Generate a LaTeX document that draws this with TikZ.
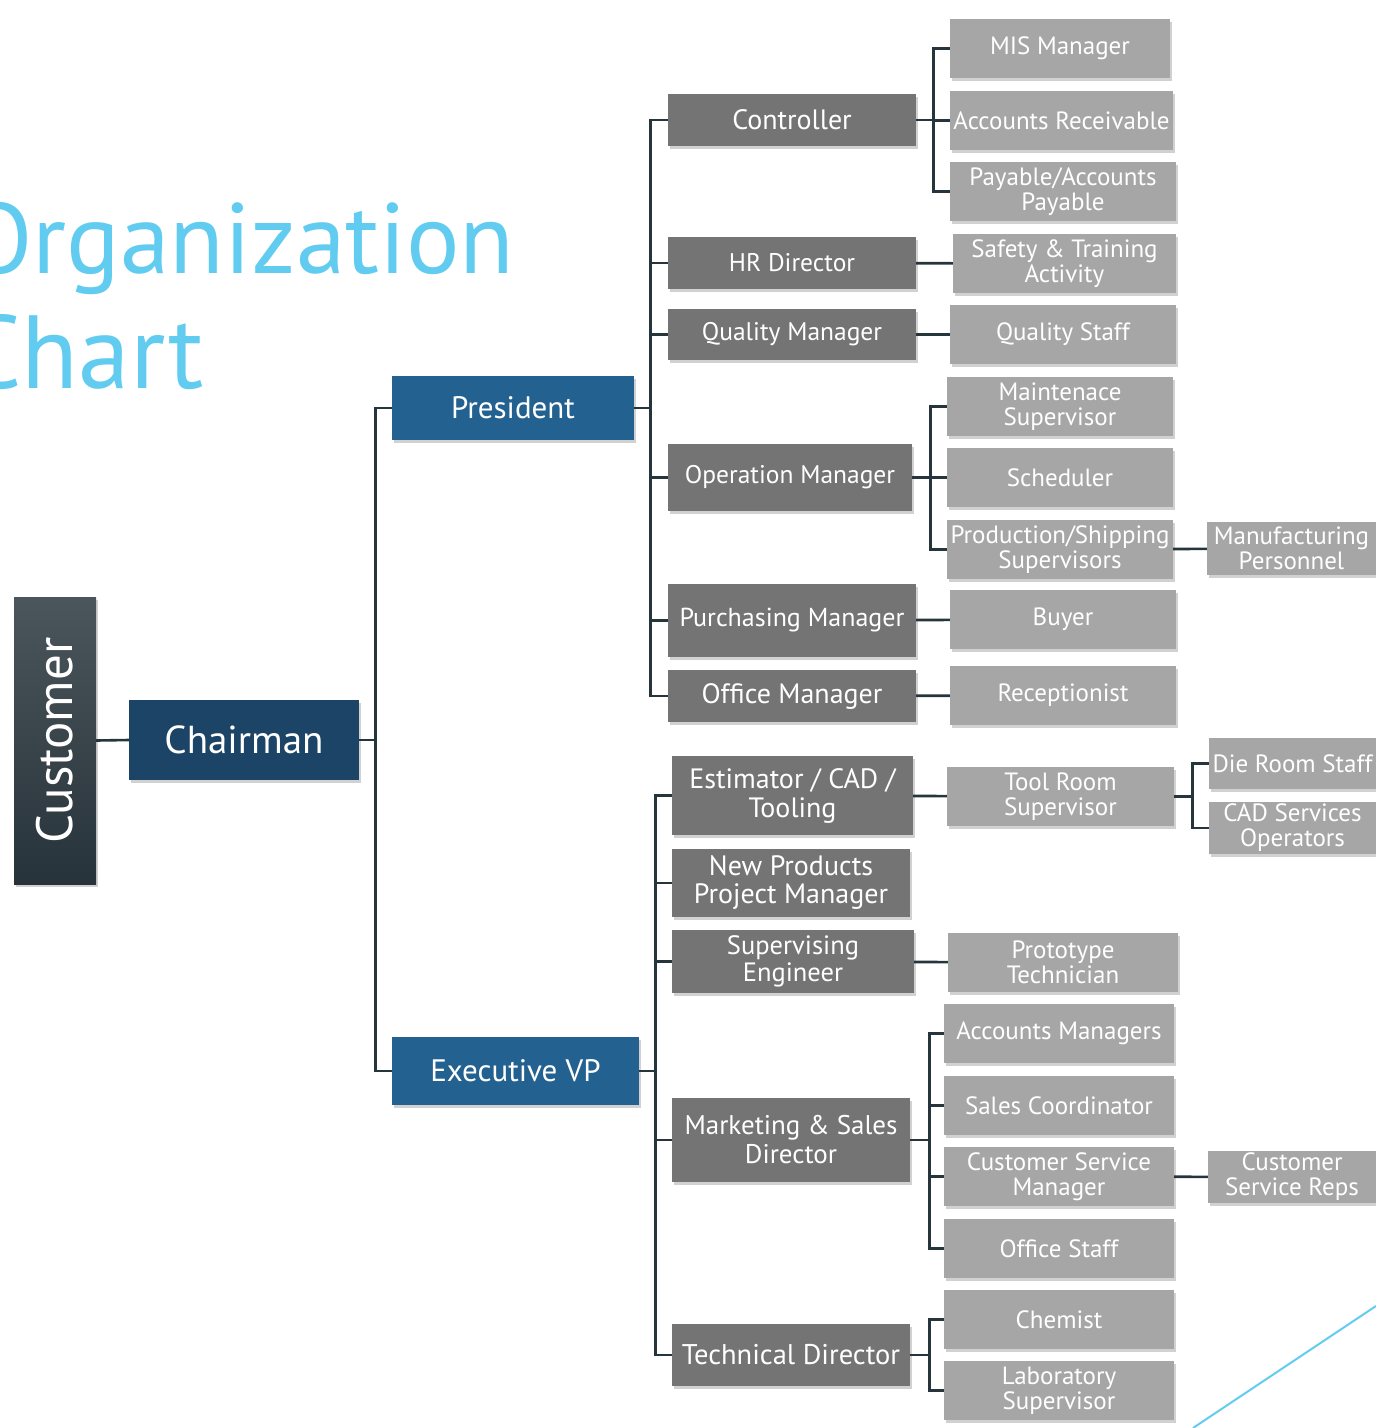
\documentclass[tikz,border=0pt]{standalone}
\usepackage{fontspec}
\setmainfont{PT Sans}
\usepackage{graphicx}
\usepackage{tikz}
\usetikzlibrary{positioning,shadows}

\definecolor{titleblue}{HTML}{62CCF0}
\definecolor{navy}{HTML}{1B4466}
\definecolor{vpblue}{HTML}{236190}
\definecolor{mgrgray}{HTML}{747474}
\definecolor{staffgray}{HTML}{A6A6A6}
\definecolor{linegray}{HTML}{26343C}
\definecolor{custtop}{HTML}{4B555C}
\definecolor{custbot}{HTML}{27333A}

\newcommand{\fs}[1]{\fontsize{#1}{1.1\dimexpr #1pt\relax}\selectfont}

\begin{document}
\begin{tikzpicture}[x=1pt,y=-1pt,
	box/.style={rectangle,text=white,align=center,inner sep=0pt,
		drop shadow={shadow xshift=2pt,shadow yshift=-3pt,opacity=0.18,fill=black}},
	cust node/.style={box,top color=custtop,bottom color=custbot,minimum width=82pt,minimum height=287pt,font=\fs{51}},
	chair node/.style={box,fill=navy,minimum width=230pt,minimum height=80pt,font=\fs{39}},
	vp node/.style={box,fill=vpblue,font=\fs{31}},
	mgr node/.style={box,fill=mgrgray,minimum width=248pt,font=\fs{26}},
	staff node/.style={box,fill=staffgray,minimum width=226pt,minimum height=59pt,font=\fontsize{25}{25}\selectfont},
	title/.style={anchor=base west,inner sep=0pt,text=titleblue,font=\fontsize{100}{115}\selectfont},
	link/.style={draw=linegray,line width=2.6pt}]
	\clip (0,0) rectangle (1376,1428);

	% title
	\node[title] (t1) at (-36,273) {Organization};
	\node[title,font=\fontsize{104}{115}\selectfont] (t2) at (-38,388) {Chart};
	\draw[titleblue,line width=2pt] (1193,1428) -- (1376,1306);

	% top levels
	\node[cust node] (cust) at (55,740.5) {\rotatebox{90}{Customer}};
	\node[chair node] (chair) at (244,740) {Chairman};
	\node[vp node,minimum width=242pt,minimum height=64pt] (pres) at (513,408) {President};
	\node[vp node,minimum width=247pt,minimum height=68pt] (evp) at (515.5,1071) {Executive VP};

	% under the president
	\node[mgr node,minimum height=52pt,font=\fs{28}] (ctrl) at (792,120) {Controller};
	\node[mgr node,minimum height=52pt,font=\fs{25.5}] (hr) at (792,263) {HR Director};
	\node[mgr node,minimum height=51pt,font=\fs{25.5}] (qm) at (792,334.5) {Quality Manager};
	\node[mgr node,minimum width=244pt,minimum height=67pt,font=\fs{25.5}] (opm) at (790,477.5) {Operation Manager};
	\node[mgr node,minimum height=73pt] (purch) at (792,620.5) {Purchasing Manager};
	\node[mgr node,minimum height=52pt,font=\fs{28}] (offm) at (792,696) {Office Manager};

	\node[staff node,minimum width=220pt] (mis) at (1060,48.5) {MIS Manager};
	\node[staff node,minimum width=223pt] (ar) at (1061.5,120.5) {Accounts Receivable};
	\node[staff node] (ap) at (1063,191.5) {Payable/Accounts\\Payable};
	\node[staff node,minimum width=223pt] (safe) at (1064.5,263.5) {Safety \& Training\\Activity};
	\node[staff node] (qs) at (1063,334.5) {Quality Staff};
	\node[staff node] (maint) at (1060,406.5) {Maintenace\\Supervisor};
	\node[staff node] (sched) at (1060,477.5) {Scheduler};
	\node[staff node] (prod) at (1060,549.5) {Production/Shipping\\Supervisors};
	\node[staff node,minimum width=169pt,minimum height=53pt] (manu) at (1291.5,548.5) {Manufacturing\\Personnel};
	\node[staff node] (buyer) at (1063,619.5) {Buyer};
	\node[staff node] (recep) at (1063,695.5) {Receptionist};

	% under the executive VP
	\node[mgr node,minimum width=241pt,minimum height=79pt,font=\fontsize{28}{29}\selectfont] (est) at (792.5,795.5) {Estimator / CAD /\\Tooling};
	\node[mgr node,minimum width=238pt,minimum height=68pt,font=\fontsize{28}{28}\selectfont] (newp) at (791,883) {New Products\\Project Manager};
	\node[mgr node,minimum width=242pt,minimum height=63pt,font=\fontsize{26.5}{27}\selectfont] (supe) at (793,961.5) {Supervising\\Engineer};
	\node[mgr node,minimum width=238pt,minimum height=84pt,font=\fontsize{27}{29}\selectfont] (mkt) at (791,1140) {Marketing \& Sales\\Director};
	\node[mgr node,minimum width=238pt,minimum height=62pt,font=\fs{28.5}] (tech) at (791,1355) {Technical Director};

	\node[staff node,minimum width=227pt] (tool) at (1060.5,796.5) {Tool Room\\Supervisor};
	\node[staff node,minimum width=167pt,minimum height=51pt] (die) at (1292.5,763.5) {Die Room Staff};
	\node[staff node,minimum width=167pt,minimum height=52pt] (cad) at (1292.5,828) {CAD Services\\Operators};
	\node[staff node,minimum width=230pt] (proto) at (1063,962.5) {Prototype\\Technician};
	\node[staff node,minimum width=230pt] (accm) at (1059,1033.5) {Accounts Managers};
	\node[staff node,minimum width=230pt] (sales) at (1059,1105.5) {Sales Coordinator};
	\node[staff node,minimum width=230pt] (csm) at (1059,1176.5) {Customer Service\\Manager};
	\node[staff node,minimum width=168pt,minimum height=52pt] (csr) at (1292,1177) {Customer\\Service Reps};
	\node[staff node,minimum width=230pt] (offs) at (1059,1248.5) {Office Staff};
	\node[staff node,minimum width=230pt] (chem) at (1059,1319.5) {Chemist};
	\node[staff node,minimum width=230pt] (lab) at (1059,1390.5) {Laboratory\\Supervisor};

	% connectors
	\draw[link] (cust.east) -- (chair.west);
	\foreach \n in {pres,evp}
		\draw[link] (chair.east) -- ++(16,0) |- (\n.west);
	\foreach \n in {ctrl,hr,qm,opm,purch,offm}
		\draw[link] (pres.east) -- ++(16,0) |- (\n.west);
	\foreach \n in {est,newp,supe,mkt,tech}
		\draw[link] (evp.east) -- ++(16,0) |- (\n.west);
	\foreach \n in {mis,ar,ap}
		\draw[link] (ctrl.east) -- ++(17,0) |- (\n.west);
	\foreach \n in {maint,sched,prod}
		\draw[link] (opm.east) -- ++(18,0) |- (\n.west);
	\foreach \n in {die,cad}
		\draw[link] (tool.east) -- ++(18,0) |- (\n.west);
	\foreach \n in {accm,sales,csm,offs}
		\draw[link] (mkt.east) -- ++(19,0) |- (\n.west);
	\foreach \n in {chem,lab}
		\draw[link] (tech.east) -- ++(19,0) |- (\n.west);
	\draw[link] (hr) -- (safe);
	\draw[link] (qm) -- (qs);
	\draw[link] (prod) -- (manu);
	\draw[link] (purch) -- (buyer);
	\draw[link] (offm) -- (recep);
	\draw[link] (est) -- (tool);
	\draw[link] (supe) -- (proto);
	\draw[link] (csm) -- (csr);
\end{tikzpicture}
\end{document}
